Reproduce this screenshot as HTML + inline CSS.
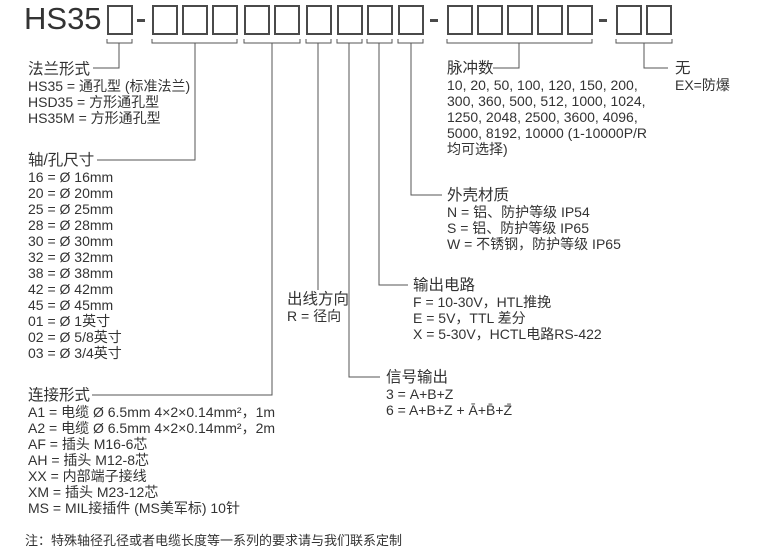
<!DOCTYPE html>
<html><head><meta charset="utf-8"><style>
body{margin:0;background:#fff;}
#c{position:relative;width:764px;height:557px;overflow:hidden;font-family:"Liberation Sans","Noto Sans CJK SC",sans-serif;color:#333;}
.t{position:absolute;font-size:14px;line-height:16px;white-space:nowrap;}
.h{font-size:15.5px;}
svg{position:absolute;left:0;top:0;}
</style></head><body><div id="c">
<svg width="764" height="557">
<g fill="none" stroke="#4a4a4a" stroke-width="2">
<rect x="108" y="6" width="24" height="28"/>
<rect x="153" y="6" width="24" height="28"/><rect x="183" y="6" width="24" height="28"/><rect x="213" y="6" width="24" height="28"/>
<rect x="245" y="6" width="24" height="28"/><rect x="275" y="6" width="24" height="28"/>
<rect x="307" y="6" width="24" height="28"/><rect x="338" y="6" width="24" height="28"/><rect x="368" y="6" width="24" height="28"/><rect x="399" y="6" width="24" height="28"/>
<rect x="448" y="6" width="24" height="28"/><rect x="478" y="6" width="24" height="28"/><rect x="508" y="6" width="24" height="28"/><rect x="538" y="6" width="24" height="28"/><rect x="568" y="6" width="24" height="28"/>
<rect x="617" y="6" width="24" height="28"/><rect x="647" y="6" width="24" height="28"/>
</g>
<g fill="#4a4a4a"><rect x="137" y="19" width="8" height="3"/><rect x="430" y="19" width="8" height="3"/><rect x="599" y="19" width="8" height="3"/></g>
<g fill="none" stroke="#555" stroke-width="1">
<path d="M107 39V43H132V39M119 43V68H93"/>
<path d="M152 39V43H237V39M195 43V160H97"/>
<path d="M244 39V43H300V39M272 43V395H92"/>
<path d="M306 39V43H331V39M318 43V290"/>
<path d="M337 39V43H362V39M349 43V377H380"/>
<path d="M367 39V43H392V39M379 43V285H408"/>
<path d="M398 39V43H423V39M411 43V195H442"/>
<path d="M447 39V43H592V39M519 43V68H493"/>
<path d="M616 39V43H672V39M644 43V68H668"/>
</g>
</svg>
<div class="t" style="left:24px;top:2px;font-size:31px;line-height:34px;">HS35</div>
<div class="t" style="left:28px;top:61px;"><span class="h">法兰形式</span><br>HS35 = 通孔型 (标准法兰)<br>HSD35 = 方形通孔型<br>HS35M = 方形通孔型</div>
<div class="t" style="left:28px;top:152px;"><span class="h">轴/孔尺寸</span><br>16 = Ø 16mm<br>20 = Ø 20mm<br>25 = Ø 25mm<br>28 = Ø 28mm<br>30 = Ø 30mm<br>32 = Ø 32mm<br>38 = Ø 38mm<br>42 = Ø 42mm<br>45 = Ø 45mm<br>01 = Ø 1英寸<br>02 = Ø 5/8英寸<br>03 = Ø 3/4英寸</div>
<div class="t" style="left:28px;top:387px;"><span class="h">连接形式</span><br>A1 = 电缆 Ø 6.5mm 4×2×0.14mm²，1m<br>A2 = 电缆 Ø 6.5mm 4×2×0.14mm²，2m<br>AF = 插头 M16-6芯<br>AH = 插头 M12-8芯<br>XX = 内部端子接线<br>XM = 插头 M23-12芯<br>MS = MIL接插件 (MS美军标) 10针</div>
<div class="t" style="left:25px;top:533px;font-size:13px;">注：特殊轴径孔径或者电缆长度等一系列的要求请与我们联系定制</div>
<div class="t" style="left:287px;top:291px;"><span class="h">出线方向</span><br>R = 径向</div>
<div class="t" style="left:386px;top:369px;"><span class="h">信号输出</span><br>3 = A+B+Z<br>6 = A+B+Z + Ā+B̄+Z̄</div>
<div class="t" style="left:413px;top:277px;"><span class="h">输出电路</span><br>F = 10-30V，HTL推挽<br>E = 5V，TTL 差分<br>X = 5-30V，HCTL电路RS-422</div>
<div class="t" style="left:447px;top:187px;"><span class="h">外壳材质</span><br>N = 铝、防护等级 IP54<br>S = 铝、防护等级 IP65<br>W = 不锈钢，防护等级 IP65</div>
<div class="t" style="left:447px;top:60px;"><span class="h">脉冲数</span><br>10, 20, 50, 100, 120, 150, 200,<br>300, 360, 500, 512, 1000, 1024,<br>1250, 2048, 2500, 3600, 4096,<br>5000, 8192, 10000 (1-10000P/R<br>均可选择)</div>
<div class="t" style="left:675px;top:60px;"><span class="h">无</span><br>EX=防爆</div>
</div></body></html>
